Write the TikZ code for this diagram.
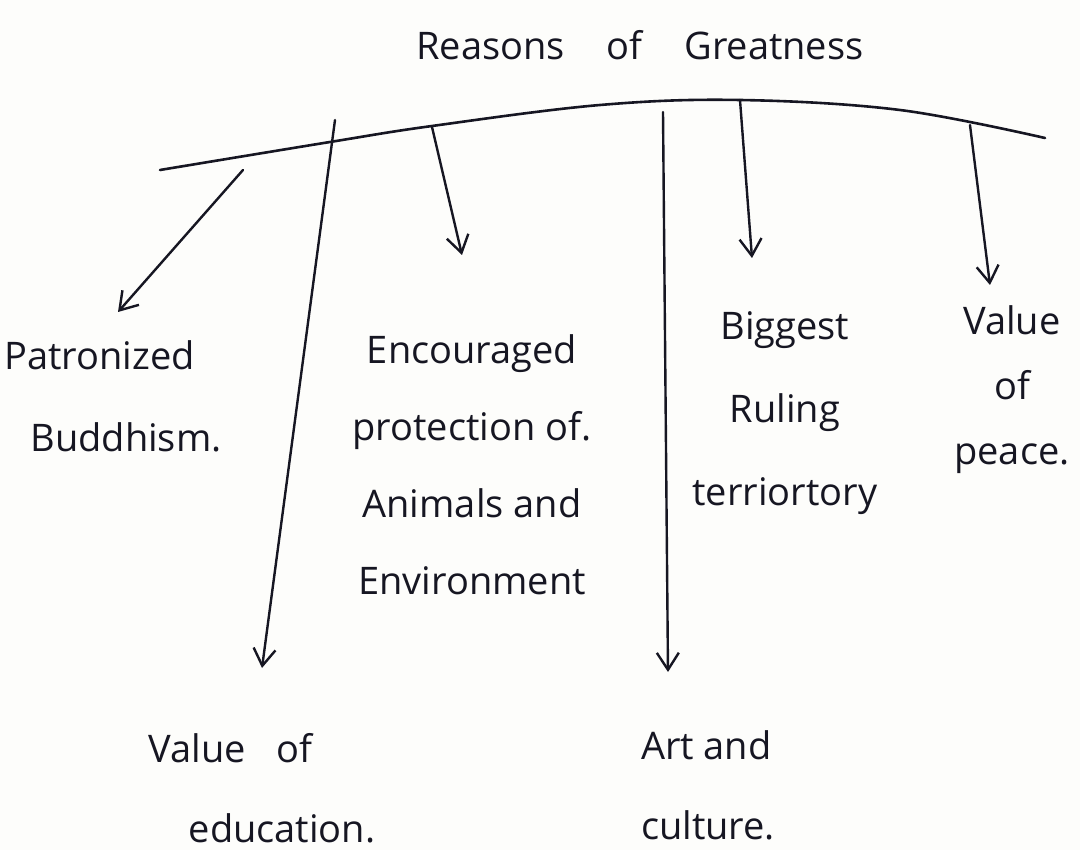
\documentclass[tikz,border=0pt]{standalone}
\usepackage{fontspec}
\setmainfont{Open Sans}
\usetikzlibrary{arrows.meta}
\definecolor{ink}{RGB}{22,22,34}
\definecolor{paper}{RGB}{253,253,251}
\begin{document}
\begin{tikzpicture}[x=1pt,y=-1pt,
  lbl/.style={text=ink,inner sep=0pt,font=\fontsize{38}{#1}\selectfont},
  lbl/.default=80,
  rib/.style={draw=ink,line width=2.6pt,line cap=round},
  branch/.style={draw=ink,line width=2.4pt,line cap=round,
    -{Straight Barb[length=17pt,width=22pt,line width=2.4pt]}}]
  % page
  \fill[paper] (0,0) rectangle (1080,850);
  \useasboundingbox (0,0) rectangle (1080,850);

  % heading
  \node[lbl] (title) at (640,45) {Reasons\hspace{1.1em}of\hspace{1.1em}Greatness};

  % the arched line under the heading
  \draw[rib] plot[smooth,tension=0.6] coordinates
    {(160,170) (330,142) (432,126) (600,105) (740,100) (900,110) (1045,138)};

  % start points of the branches
  \coordinate (s1) at (243,170);
  \coordinate (s2) at (335,120);
  \coordinate (s3) at (432,127);
  \coordinate (s4) at (663,112);
  \coordinate (s5) at (740,100);
  \coordinate (s6) at (970,125);

  % arrow tips
  \coordinate (e1) at (118,312);
  \coordinate (e2) at (262,668);
  \coordinate (e3) at (462,255);
  \coordinate (e4) at (668,672);
  \coordinate (e5) at (752,258);
  \coordinate (e6) at (990,285);

  % reasons
  \node[lbl=82,align=left] (budd) at (113,396)
    {Patronized\\\hspace{26pt}Buddhism.};
  \node[lbl=77,align=center] (envi) at (472,465)
    {Encouraged\\protection of.\\Animals and\\Environment};
  \node[lbl=83,align=center] (rule) at (785,413)
    {Biggest\\Ruling\\terriortory};
  \node[lbl=65,align=center] (peace) at (1012,390)
    {Value\\of\\peace.};
  \node[lbl=80,align=left] (edu) at (262,788)
    {Value\hspace{0.8em}of\\\hspace{40pt}education.};
  \node[lbl=80,align=left] (art) at (708,785)
    {Art and\\culture.};

  % branches
  \draw[branch] (s1) -- (e1);
  \draw[branch] (s2) -- (e2);
  \draw[branch] (s3) -- (e3);
  \draw[branch] (s4) -- (e4);
  \draw[branch] (s5) -- (e5);
  \draw[branch] (s6) -- (e6);
\end{tikzpicture}
\end{document}
